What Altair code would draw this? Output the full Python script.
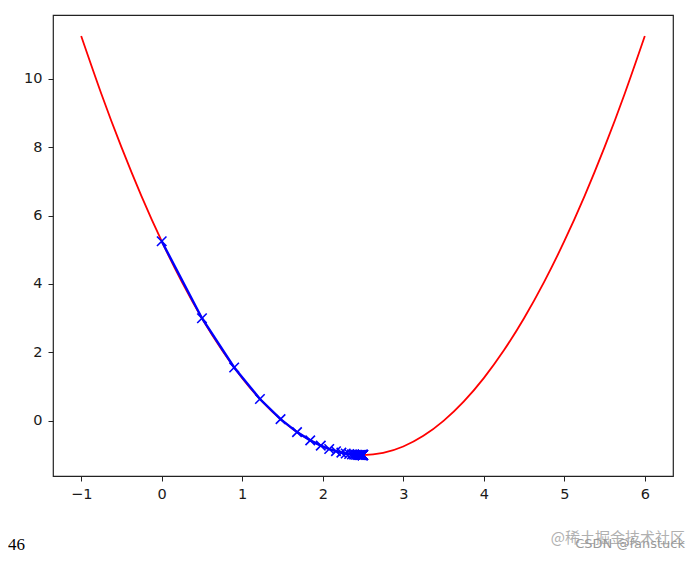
import altair as alt
import pandas as pd

# red curve samples
curve_x = [-1, -0.75, -0.5, -0.25, 0, 0.25, 0.5, 0.75, 1, 1.25, 1.5, 1.75, 2, 2.25, 2.5,
           2.75, 3, 3.25, 3.5, 3.75, 4, 4.25, 4.5, 4.75, 5, 5.25, 5.5, 5.75, 6]
curve_y = [11.25, 9.5625, 8, 6.5625, 5.25, 4.0625, 3, 2.0625, 1.25, 0.5625, 0, -0.4375, -0.75,
           -0.9375, -1, -0.9375, -0.75, -0.4375, 0, 0.5625, 1.25, 2.0625, 3, 4.0625, 5.25,
           6.5625, 8, 9.5625, 11.25]

# descent path (46 steps)
path_x = [0, 0.5, 0.9, 1.22, 1.476, 1.6808, 1.84464, 1.97571, 2.08057, 2.16446, 2.23156,
          2.28525, 2.32820, 2.36256, 2.39005, 2.41204, 2.42963, 2.44371, 2.45496, 2.46397,
          2.47118, 2.47694, 2.48155, 2.48524, 2.48819, 2.49056, 2.49244, 2.49396, 2.49516,
          2.49613, 2.49690, 2.49752, 2.49802, 2.49841, 2.49873, 2.49899, 2.49919, 2.49935,
          2.49948, 2.49958, 2.49967, 2.49973, 2.49979, 2.49983, 2.49986, 2.49989]
path_y = [5.25, 3.0, 1.56, 0.6384, 0.0486, -0.3289, -0.5705, -0.7251, -0.8241, -0.8874,
          -0.9279, -0.9539, -0.9705, -0.9811, -0.9879, -0.9923, -0.9950, -0.9968, -0.9980,
          -0.9987, -0.9992, -0.9995, -0.9997, -0.9998, -0.9999, -0.9999, -0.9999, -1.0, -1.0,
          -1.0, -1.0, -1.0, -1.0, -1.0, -1.0, -1.0, -1.0, -1.0, -1.0, -1.0, -1.0, -1.0, -1.0,
          -1.0, -1.0, -1.0]

x_ticks = [-1, 0, 1, 2, 3, 4, 5, 6]
y_ticks = [0, 2, 4, 6, 8, 10]
count_label = "46"
wm1 = "@稀土掘金技术社区"
wm2 = "CSDN @fanstuck"

curve = pd.DataFrame({"x": curve_x, "y": curve_y})
path = pd.DataFrame({"x": path_x, "y": path_y, "i": list(range(len(path_x)))})

xs = alt.Scale(domain=[-1.35, 6.35], nice=False, zero=False)
ys = alt.Scale(domain=[-1.6125, 11.8625], nice=False, zero=False)

xax = alt.Axis(values=x_ticks, format="d", title=None, grid=False, domain=False,
               tickSize=5, tickColor="#222", labelPadding=6, labelFontSize=14.5,
               labelColor="#1a1a1a", labelFont="DejaVu Sans")
yax = alt.Axis(values=y_ticks, format="d", title=None, grid=False, domain=False,
               tickSize=5, tickColor="#222", labelPadding=6, labelFontSize=14.5,
               labelColor="#1a1a1a", labelFont="DejaVu Sans")

red = alt.Chart(curve).mark_line(color="red", strokeWidth=1.8, interpolate="natural").encode(
    x=alt.X("x:Q", scale=xs, axis=xax),
    y=alt.Y("y:Q", scale=ys, axis=yax),
)

blue = alt.Chart(path).mark_line(color="blue", strokeWidth=2.4).encode(
    x=alt.X("x:Q", scale=xs), y=alt.Y("y:Q", scale=ys), order="i:Q"
)

marks = alt.Chart(path).mark_point(
    shape="M-1,-1L1,1M-1,1L1,-1", color="blue", strokeWidth=1.6, size=90, filled=False, opacity=1
).encode(x=alt.X("x:Q", scale=xs), y=alt.Y("y:Q", scale=ys))

lbl = alt.Chart(pd.DataFrame({"t": [count_label]})).mark_text(
    font="'Liberation Serif', 'Times New Roman', serif", fontSize=17, align="left",
    baseline="alphabetic", color="black"
).encode(text="t:N", x=alt.value(-45), y=alt.value(535))

w1 = alt.Chart(pd.DataFrame({"t": [wm1]})).mark_text(
    font="Noto Sans CJK SC", fontSize=15, align="right", baseline="alphabetic", color="#b0b0b0"
).encode(text="t:N", x=alt.value(632), y=alt.value(528))

w2 = alt.Chart(pd.DataFrame({"t": [wm2]})).mark_text(
    font="DejaVu Sans", fontSize=13, align="right", baseline="alphabetic", color="#999999"
).encode(text="t:N", x=alt.value(632), y=alt.value(533))

chart = alt.layer(red, blue, marks, lbl, w1, w2).properties(
    width=620, height=461,
    autosize=alt.AutoSizeParams(type="none"),
    padding={"left": 45, "top": 7, "right": 17, "bottom": 79},
).configure(background="white").configure_view(stroke="#222", strokeWidth=1.2)

chart.save("out.html", embed_options={"renderer": "svg", "actions": False})
